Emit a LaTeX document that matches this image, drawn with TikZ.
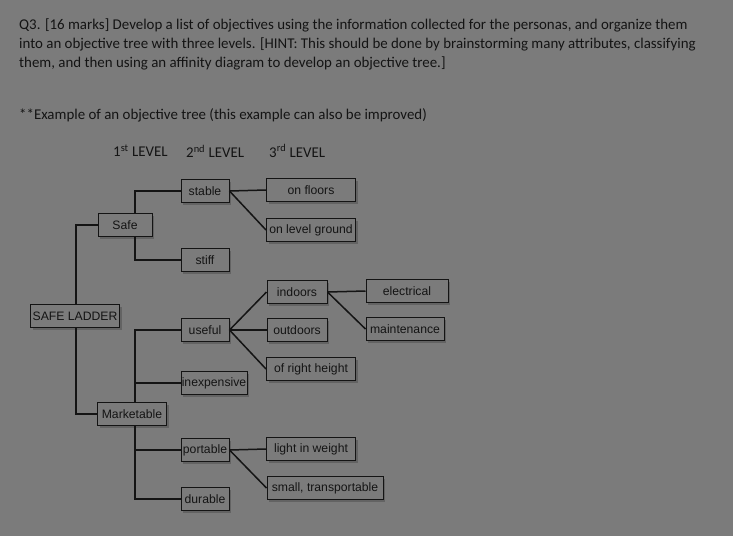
\documentclass[tikz,border=0pt]{standalone}
\usepackage{fontspec}
\setmainfont{Carlito}
\newfontfamily\boxfont{Liberation Sans}
\usetikzlibrary{shadows}
\definecolor{bg}{HTML}{7B7B7B}
\definecolor{ink}{HTML}{141414}
\begin{document}
\begin{tikzpicture}[x=1pt,y=-1pt,
  bx/.style={draw=ink,line width=1pt,fill=bg,font=\boxfont\fontsize{12.2}{14}\selectfont,text=ink,
    inner sep=0pt,minimum height=23pt,drop shadow={shadow xshift=2pt,shadow yshift=-2pt,fill=black!70,opacity=0.5}},
  ln/.style={draw=ink,line width=1.5pt},
  hd/.style={anchor=west,text=ink,font=\fontsize{14.9}{17}\selectfont,inner sep=0pt}]
\fill[bg] (0,0) rectangle (733,536);
\useasboundingbox (0,0) rectangle (733,536);
\node[hd] (l1) at (19,25) {Q3. [16 marks] Develop a list of objectives using the information collected for the personas, and organize them};
\node[hd] (l2) at (19,44) {into an objective tree with three levels. [HINT: This should be done by brainstorming many attributes, classifying};
\node[hd] (l3) at (19,63) {them, and then using an affinity diagram to develop an objective tree.]};
\node[hd] (l4) at (19,115) {**Example of an objective tree (this example can also be improved)};
\node[hd] (v1) at (113,151) {1\textsuperscript{st} LEVEL};
\node[hd] (v2) at (186,151) {2\textsuperscript{nd} LEVEL};
\node[hd] (v3) at (269,151) {3\textsuperscript{rd} LEVEL};

\node[bx,minimum width=89pt] (root) at (75,316) {SAFE LADDER};
\node[bx,minimum width=54pt] (safe) at (125,225) {Safe};
\node[bx,minimum width=69pt] (mkt) at (132,414) {Marketable};
\node[bx,minimum width=48pt] (stable) at (205,191) {stable};
\node[bx,minimum width=48pt] (stiff) at (205,260) {stiff};
\node[bx,minimum width=48pt] (useful) at (205,330) {useful};
\node[bx,minimum width=66pt] (inexp) at (214,383) {inexpensive};
\node[bx,minimum width=48pt] (port) at (205,450) {portable};
\node[bx,minimum width=48pt] (dur) at (205,499) {durable};
\node[bx,minimum width=89pt] (floors) at (311,190) {on floors};
\node[bx,minimum width=89pt] (level) at (311,230) {on level ground};
\node[bx,minimum width=60pt] (indoors) at (297,292) {indoors};
\node[bx,minimum width=60pt] (outdoors) at (297,330) {outdoors};
\node[bx,minimum width=89pt] (height) at (311,369) {of right height};
\node[bx,minimum width=82pt] (elec) at (407,291) {electrical};
\node[bx,minimum width=78pt] (maint) at (405,329) {maintenance};
\node[bx,minimum width=89pt] (light) at (311,449) {light in weight};
\node[bx,minimum width=116pt] (small) at (325,488) {small, transportable};

\draw[ln] (safe.west) -| (76,225) -- (root.north -| 76,0);
\draw[ln] (root.south -| 76,0) -- (76,414) -- (mkt.west);
\draw[ln] (safe.south -| 135,0) |- (stiff.west);
\draw[ln] (safe.north -| 135,0) |- (stable.west);
\draw[ln] (mkt.north -| 135,0) |- (useful.west);
\draw[ln] (mkt.south -| 135,0) |- (dur.west);
\draw[ln] (135,383) -- (inexp.west);
\draw[ln] (135,450) -- (port.west);
\draw[ln] (stable.east) -- (floors.west);
\draw[ln] (stable.east) -- (level.west);
\draw[ln] (useful.east) -- (indoors.west);
\draw[ln] (useful.east) -- (outdoors.west);
\draw[ln] (useful.east) -- (height.west);
\draw[ln] (indoors.east) -- (elec.west);
\draw[ln] (indoors.east) -- (maint.west);
\draw[ln] (port.east) -- (light.west);
\draw[ln] (port.east) -- (small.west);
\end{tikzpicture}
\end{document}
